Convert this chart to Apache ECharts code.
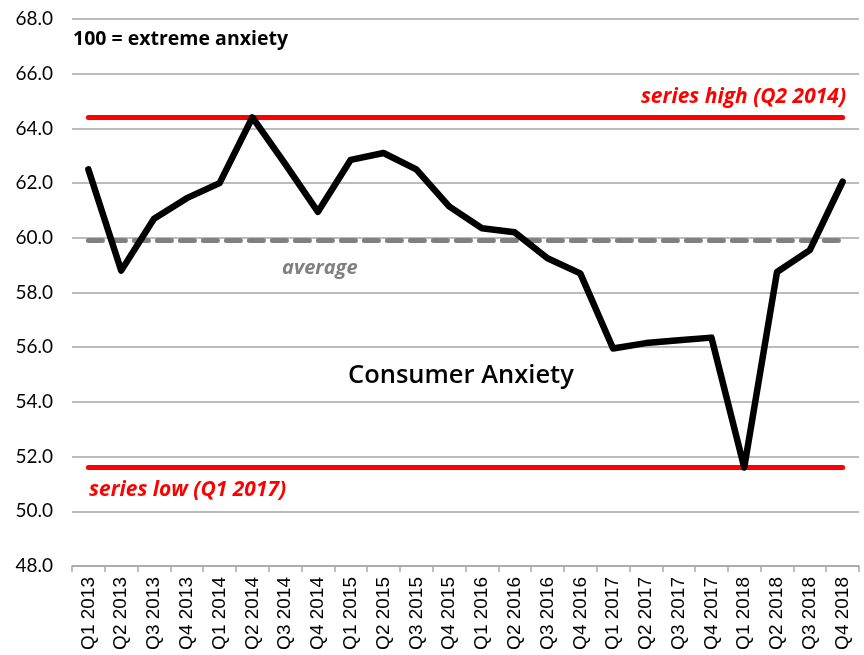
<!DOCTYPE html>
<html><head><meta charset="utf-8">
<script src="https://cdn.jsdelivr.net/npm/echarts@6/dist/echarts.min.js"></script>
<style>html,body{margin:0;padding:0;background:#fff}#c{width:864px;height:655px}</style>
</head><body><div id="c"></div>
<script>
const categories = ['Q1 2013','Q2 2013','Q3 2013','Q4 2013','Q1 2014','Q2 2014','Q3 2014','Q4 2014',
  'Q1 2015','Q2 2015','Q3 2015','Q4 2015','Q1 2016','Q2 2016','Q3 2016','Q4 2016',
  'Q1 2017','Q2 2017','Q3 2017','Q4 2017','Q1 2018','Q2 2018','Q3 2018','Q4 2018'];
const anxiety = [62.5,58.8,60.7,61.45,62.0,64.4,62.7,60.95,62.85,63.1,62.5,61.15,60.35,60.2,59.25,58.7,
  55.95,56.15,56.25,56.35,51.6,58.75,59.55,62.05];
const seriesHigh = 64.4;
const seriesLow = 51.6;
const average = 59.9;
const yTicks = {min: 48, max: 68, interval: 2};

const chart = echarts.init(document.getElementById('c'), null, {renderer: 'canvas'});
const flat = v => categories.map(() => v);
const FONT = 'Lato';
const AFONT = '"Open Sans"';
const txt = (x, y, text, fill, font, align) => ({type: 'text', x, y,
  style: {text, fill, font, align: align || 'left', verticalAlign: 'middle'}});
chart.setOption({
  animation: false,
  grid: {left: 72, right: 5, top: 19, bottom: 89},
  xAxis: {
    type: 'category', data: categories, boundaryGap: true,
    axisLine: {lineStyle: {color: '#a6a6a6', width: 1.5}},
    axisTick: {show: true, length: 6, lineStyle: {color: '#a6a6a6', width: 1.5}},
    axisLabel: {rotate: 90, interval: 0, color: '#000', fontFamily: 'Liberation Sans', fontSize: 19, margin: 11}
  },
  yAxis: {
    type: 'value', min: yTicks.min, max: yTicks.max, interval: yTicks.interval,
    axisLine: {show: false}, axisTick: {show: false},
    axisLabel: {formatter: v => v.toFixed(1), color: '#000', fontFamily: FONT, fontSize: 19, margin: 19},
    splitLine: {lineStyle: {color: '#a6a6a6', width: 1.5}}
  },
  series: [
    {type: 'line', data: flat(average), symbol: 'none', silent: true, z: 1,
     lineStyle: {color: '#808080', width: 5, type: [14, 9], cap: 'round'}},
    {type: 'line', data: flat(seriesHigh), symbol: 'none', silent: true, z: 2,
     lineStyle: {color: '#ff0000', width: 5, cap: 'round'}},
    {type: 'line', data: flat(seriesLow), symbol: 'none', silent: true, z: 2,
     lineStyle: {color: '#ff0000', width: 5, cap: 'round'}},
    {type: 'line', data: anxiety, symbol: 'none', z: 3,
     lineStyle: {color: '#000', width: 6.5, join: 'round', cap: 'round'}}
  ],
  graphic: [
    txt(73, 39, '100 = extreme anxiety', '#000', 'bold 19.5px ' + AFONT),
    txt(846, 97, 'series high (Q2 2014)', '#ff0000', 'italic bold 21px ' + AFONT, 'right'),
    txt(282, 268, 'average', '#808080', 'italic bold 20px ' + AFONT),
    txt(348, 376, 'Consumer Anxiety', '#000', '600 25.5px ' + AFONT),
    txt(89, 490, 'series low (Q1 2017)', '#ff0000', 'italic bold 21px ' + AFONT)
  ]
});
</script></body></html>
